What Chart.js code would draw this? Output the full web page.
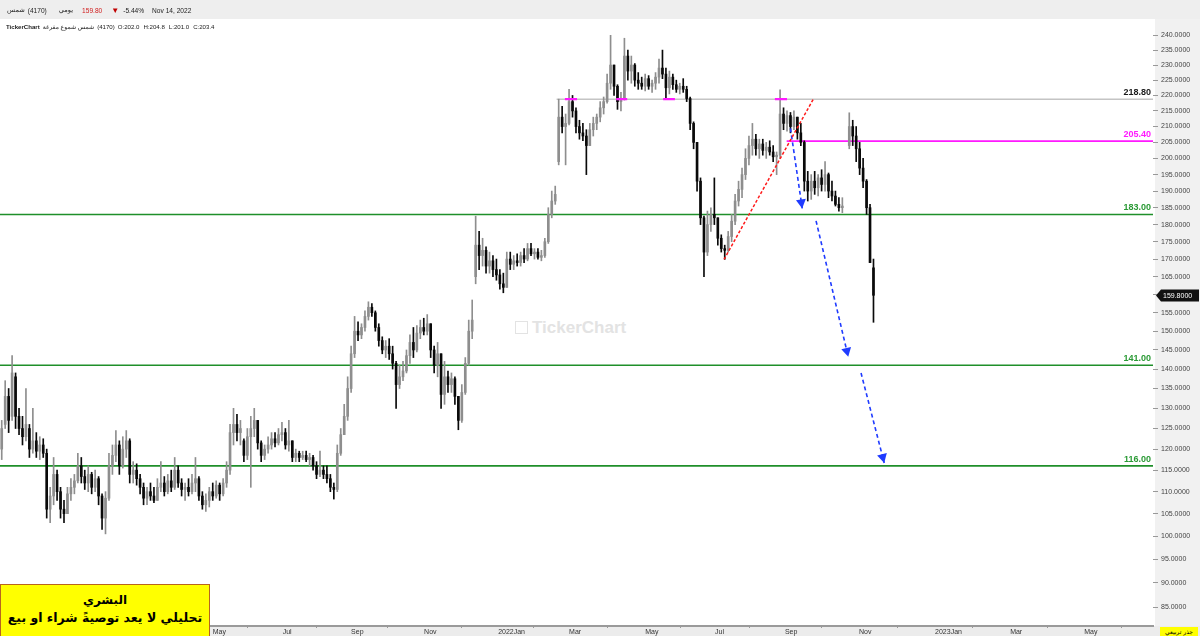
<!DOCTYPE html>
<html lang="ar">
<head>
<meta charset="utf-8">
<title>شمس (4170)</title>
<script src="https://cdn.jsdelivr.net/npm/chart.js@4.4.1/dist/chart.umd.min.js"></script>
<style>
  html, body { margin: 0; padding: 0; background: #fff; }
  #wrap { position: relative; width: 1200px; height: 636px; overflow: hidden;
          font-family: "Liberation Sans", "DejaVu Sans", Arial, sans-serif; }
  #chart { position: absolute; left: 0; top: 0; z-index: 1; }
  #hdr { position: absolute; left: 0; top: 0; width: 1200px; height: 19px; background: #eeeeee; z-index: 0; }
  .row { position: absolute; display: flex; align-items: center; white-space: nowrap; z-index: 2; color: #222; direction: ltr; }
  .row span { unicode-bidi: isolate; }
  #r1 { left: 7px; top: 5px; height: 10px; font-size: 6.6px; }
  #r2 { left: 6px; top: 22px; height: 8px; font-size: 6.1px; }
  #wm { position: absolute; left: 515px; top: 318px; z-index: 0; color: #e3e3e3; font-weight: bold; font-size: 17px; }
  #wm i { display: inline-block; width: 11px; height: 11px; border: 1.5px solid #e3e3e3; margin-right: 4px; vertical-align: -1px; }
  #note { position: absolute; left: 0; top: 584px; width: 208px; height: 52px; background: #ffff00;
          border: 1px solid #b8651e; z-index: 3; text-align: center; color: #000; font-weight: bold;
          font-family: "DejaVu Sans", sans-serif; direction: rtl; }
  #note .l1 { font-size: 12px; line-height: 16px; margin-top: 7px; }
  #note .l2 { font-size: 12.5px; line-height: 20px; white-space: nowrap; }
  #sq { position: absolute; left: 1160px; top: 627px; width: 38px; height: 9px; background: #ffff00; z-index: 3;
        font-size: 6px; line-height: 9px; text-align: center; font-family: "DejaVu Sans", sans-serif; }
</style>
</head>
<body>
<div id="wrap">
  <div id="hdr"></div>
  <div class="row" id="r1">
    <span>شمس</span>
    <span style="margin-left:3px">(4170)</span>
    <span style="margin-left:12px">يومي</span>
    <span style="margin-left:9px;color:#d01c1c">159.80</span>
    <span style="margin-left:9px;color:#c00000;font-size:8px">▼</span>
    <span style="margin-left:4px">-5.44%</span>
    <span style="margin-left:8px">Nov 14, 2022</span>
  </div>
  <div class="row" id="r2">
    <span style="font-weight:bold">TickerChart</span>
    <span style="margin-left:3px">شمس شموع مفرغة</span>
    <span style="margin-left:3px">(4170)</span>
    <span style="margin-left:3px">O:202.0</span>
    <span style="margin-left:4px">H:204.8</span>
    <span style="margin-left:4px">L:201.0</span>
    <span style="margin-left:4px">C:203.4</span>
  </div>
  <div id="wm"><i></i>TickerChart</div>
  <canvas id="chart" width="1200" height="636"></canvas>
  <div id="note"><div class="l1">البشري</div><div class="l2">تحليلي لا يعد توصيةً شراء او بيع</div></div>
  <div id="sq">جذر تربيعي</div>
</div>
<script>
// each bar = two trading sessions, index 0 is the first bar at the left edge
const opens = [
  120,126,133,128,138,128,125,123,125,120, 122,119.5,121,119,106,109,114,110,106,105,
  109.5,111,112.5,116,113.5,112,114,111,113,109, 104,108.5,116,118.5,121,116,120,122,114,115,
  113,111,108.5,110,109,108,111,112,110,112.5, 111,115,112,110.5,111,110,112,113,109,107,
  108,110,109,111.5,109.5,112,115,124,126,124, 122,118.5,123,125,127,121.5,118.5,120,121,122.5,
  121.5,123.5,124,121,122,118,119,118,118.5,117.5, 118,116,114,115,114,113,111,110.5,119,123.5,
  128,135,144,150,149,151,154,156.5,155,151, 147.5,145,146,144,141.5,136,138,139.5,143.5,147,
  145,149.5,151,150,152,145,141,144,133.5,138, 136,137.5,133,127,134,141.5,150,165,174,171,
  172.5,168,169.5,167,165.5,163,162,170,168.5,169.5, 169,171,170,173,171.5,172,170.5,171,175,183,
  187,199,213,210,211,218,215,210,208,207, 204,209,211,213,216,218,224,230,223,218,
  219,233,228,230,225,224,223,225.5,223,224, 226,229,227,222.5,226,223.5,222,223,222,219,
  211,205,193,182,172,180,183,182,176,173, 172.5,176.5,181,187,190.5,195,200,204,206,203,
  204.5,202.5,203.5,202,200.5,201,214,211,213.5,210, 213,208,205,193,190,193,191,194,192,195,
  190,188.5,186,185,null,204,210,207,203,197, 193,185,167.5
];
const highs = [
  127,137,135,143.5,139,130,128,135,126,130, 124,123,122.5,120,111,118,115,111,108,111,
  113,114,119,118,115,116,114.5,115,113.5,109.5, 110,119,121,124.5,122,123,124.5,122.5,117,116.5,
  114,112,111,112,111,113,117,113.5,114,115, 118,116,113,112,113,114,118,113.5,110,109.5,
  111,112,112.5,112,113,117,126,130,128.5,127, 122.5,125,128,130,127,122,121,123,124,124,
  125,126.5,125,127,122,120,119.5,119.5,119.5,119, 118.5,117,119.5,116,116,114,112,121,125,131,
  138,146,154,152.5,152,155.5,158,157.5,155.5,152, 148.5,147.5,148,146,142,141,142,145,149,151,
  151.5,153,153.5,154.5,152,146,147,144,142,139.5, 139,138,133,136,143,153,158.5,182.5,178,176,
  173.5,172,171,170,167,166,172,172,171,171.5, 172,173,174.5,174.5,173,173,172.5,176,185,190,
  191.5,218.8,216.5,214,222,220,216,212,211,209, 211,213,214,218,219.5,227,240,230,223.5,221,
  239,235,233,230.5,227.5,226,227,226.5,225,227.5, 232,235,229,228,227,225,224,225.5,223,219.5,
  211.5,205,194,182.5,184,185,194,182,177,174, 178,183,189,193,197,203,207,211,207.5,206,
  206,205,205.5,204,202,221.8,216,215,214.5,215, 213,211,205.5,196,195,196,195,196.5,199,195.5,
  193,190,188,188,null,214.4,212,210,205,200, 193.5,186,170
];
const lows = [
  117.5,125,124,127,125,123.5,121,122,118,119, 118,117.5,118,104,103,107,108,104,103,105,
  108,109.5,112,112,110.5,110,109.5,110,107,101.5, 100.5,108,114,117,114,115.5,118,112,112,111.5,
  109.5,107,107,108,107.5,108,110,109,109.5,110, 110.5,111,109,108,109,109.5,110,108,106,105.5,
  106.5,108,108.5,108,109,111,114,121,122,121, 117,117.5,111,123,120,117,117.5,119,120,120.5,
  121,122,120,119.5,117,117,117,117.5,117,116, 115,113,113.5,113,112,110,108.3,110,118.5,123.5,
  127,134,143,147.5,148,150,153,154,150,146, 144,143,142.5,140,130,135,137,139,141.5,143,
  144.5,148,149,149,143,139,138,130,131,134, 134,131,124.7,126.5,133.5,141,148,163,167,168,
  166,166,165,164,161.5,160.5,162,167,167,168, 168,169,169.5,171,170,170,169.5,170.5,174.5,182,
  186,198,208,198,210.5,213,208,206,205.5,195, 204,207,209,211.5,214,217.5,222,220,215.5,215,
  218.5,225,224,223,222,222,221.5,222,221,222, 224,225.5,219,220.5,222,221,220.5,221,218,209,
  203,190,180,165,171,178,180,174,172,169.9, 172,175,180,185.5,188,193.5,198,201,201,200,
  201,200,201,199,195,200,209,208.5,208,209, 206,204,190,187,187.5,189,188.5,190,190,188,
  187,185.5,184,183.5,null,203,204,199,195,191, 183,169,152.4
];
const closes = [
  125,133,127,139,128,125,123,126,120,122, 119.5,121,119,106,109,114,110,106,105,109.5,
  111,112.5,116,113.5,112,114,111,113,109,104, 108.5,116,118.5,121,116,120,122,114,115,113,
  111,108.5,110,109,108,111,112,110,112.5,111, 115,112,110.5,111,110,112,113,109,107,108,
  110,109,111.5,109.5,112,115,124,126,124,125, 118.5,123,125,127,121.5,118.5,120,121,122.5,121.5,
  123.5,124,121,122,118,119,118,118.5,117.5,118, 116,114,115,114,113,111,110.5,119,123.5,128,
  135,144,150,149,151,154,156.5,155,151,147.5, 145,146,144,141.5,136,138,139.5,143.5,147,145,
  149.5,151,150,152,145,141,144,133.5,138,136, 137.5,133,127,134,141.5,150,153,174,171,172.5,
  168,169.5,167,165.5,163,162,170,168.5,169.5,169, 171,170,173,171.5,172,170.5,171,175,183,187,
  189,213,210,211,218,215,210,208,207,204, 209,211,213,216,218,224,230,223,218,219,
  233,228,230,225,224,223,225.5,223,224,226, 229,227,222.5,226,223.5,222,223,222,219,211,
  205,193,182,172,180,183,182,176,173,172.5, 176.5,181,187,190.5,195,200,204,206,203,204.5,
  202.5,203.5,202,200.5,201,214,211,213.5,210,213, 208,205,193,190,193,191,194,192,195,190,
  188.5,186,185,185.5,null,210,207,203,197,193, 185,169,159.8
];

// x axis: month starts, in bar units
const monthLabels = ['May','Jul','Sep','Nov','2022Jan','Mar','May','Jul','Sep','Nov','2023Jan','Mar','May'];
const monthPos = [61.0, 81.2, 101.0, 122.1, 143.5, 164.0, 186.0, 206.2, 226.4, 247.8, 269.8, 291.5, 312.9];
const yTicks = [85,90,95,100,105,110,115,120,125,130,135,140,145,150,155,160,165,170,175,180,185,
  190,195,200,205,210,215,220,225,230,235,240];

// horizontal levels
const levelValues = [218.8, 205.4, 183.0, 141.0, 116.0];
const levelStart = [160.4, 226.9, -0.5, -0.5, -0.5];
const levelColors = ['#c4c4c4', '#ff19ff', '#1f8f2a', '#1f8f2a', '#1f8f2a'];
const levelTextColors = ['#1a1a1a', '#ff19ff', '#2a9a35', '#2a9a35', '#2a9a35'];

// magenta touch marks on 218.80
const touchStart = [162.8, 177.6, 191.2, 223.5];
const touchEnd = [166.3, 180.8, 194.6, 227.0];

// red rising trend line
const trendX = [208.8, 234.6];
const trendY = [169.9, 218.8];

// blue projection arrows
const arrowStartX = [228.0, 235.4, 248.4];
const arrowStartY = [209.4, 181.1, 139.0];
const arrowEndX = [231.4, 244.7, 255.1];
const arrowEndY = [184.8, 143.2, 116.7];

const lastClose = 159.8;
const X_MIN = -0.5, X_MAX = 332.8;
const FONT = '"Liberation Sans", Arial, sans-serif';
const UP = '#8e8e8e', DOWN = '#0a0a0a';

// square root price scale, like the TickerChart one
class SqrtScale extends Chart.LinearScale {
  getPixelForValue(value) {
    if (value === null || value === undefined) return NaN;
    const a = Math.sqrt(this.min), b = Math.sqrt(this.max);
    return this.getPixelForDecimal((Math.sqrt(Math.max(value, 0)) - a) / (b - a));
  }
  getValueForPixel(pixel) {
    const a = Math.sqrt(this.min), b = Math.sqrt(this.max);
    const s = a + this.getDecimalForPixel(pixel) * (b - a);
    return s * s;
  }
}
SqrtScale.id = 'sqrt';
SqrtScale.defaults = Chart.LinearScale.defaults;
Chart.register(SqrtScale);

const barIdx = closes.map((c, i) => i).filter(i => closes[i] !== null);
const candleColor = ctx => {
  const i = ctx.raw ? ctx.raw.x : 0;
  return closes[i] >= opens[i] ? UP : DOWN;
};

const datasets = [
  {
    type: 'bar', order: 0, grouped: false,
    data: barIdx.map(i => ({ x: i, y: [lows[i], highs[i]] })),
    backgroundColor: candleColor, barThickness: 1
  },
  {
    type: 'bar', order: 0, grouped: false,
    data: barIdx.map(i => ({ x: i, y: [opens[i], closes[i]] })),
    backgroundColor: candleColor, barThickness: 2, minBarLength: 1
  }
];

levelValues.forEach((v, i) => {
  datasets.push({
    type: 'line', order: 1,
    data: [{ x: levelStart[i], y: v }, { x: X_MAX, y: v }],
    borderColor: levelColors[i], borderWidth: i === 0 ? 1.5 : 1.6, pointRadius: 0
  });
});

const touchData = [];
touchStart.forEach((s, i) => {
  touchData.push({ x: s, y: levelValues[0] }, { x: touchEnd[i], y: levelValues[0] }, { x: touchEnd[i] + 0.1, y: null });
});
datasets.push({
  type: 'line', order: -1, data: touchData, spanGaps: false,
  borderColor: '#ff19ff', borderWidth: 2.2, pointRadius: 0
});

datasets.push({
  type: 'line', order: -1,
  data: trendX.map((x, i) => ({ x, y: trendY[i] })),
  borderColor: '#ff1a1a', borderWidth: 1.5, borderDash: [3, 2], pointRadius: 0
});

arrowStartX.forEach((sx, i) => {
  datasets.push({
    type: 'line', order: -1,
    data: [{ x: sx, y: arrowStartY[i] }, { x: arrowEndX[i], y: arrowEndY[i] }],
    borderColor: '#1f3bff', borderWidth: 1.6, borderDash: [4, 3], pointRadius: 0
  });
});

const tickerPlugin = {
  id: 'ticker',
  beforeDraw(chart) {
    const { ctx, chartArea: a } = chart;
    ctx.save();
    ctx.fillStyle = '#f1f1f1';
    ctx.fillRect(a.right + 2, a.top, chart.width - a.right - 2, chart.height - a.top);
    ctx.fillStyle = '#ececec';
    ctx.fillRect(0, a.bottom, chart.width, chart.height - a.bottom);
    ctx.restore();
  },
  afterDatasetsDraw(chart) {
    const { ctx, chartArea: a, scales: { x, y } } = chart;
    ctx.save();
    // arrow heads
    ctx.fillStyle = '#1f3bff';
    arrowEndX.forEach((ex, i) => {
      const tx = x.getPixelForValue(ex), ty = y.getPixelForValue(arrowEndY[i]);
      const sx = x.getPixelForValue(arrowStartX[i]), sy = y.getPixelForValue(arrowStartY[i]);
      const len = Math.hypot(tx - sx, ty - sy);
      const ux = (tx - sx) / len, uy = (ty - sy) / len;
      const bx = tx - ux * 9, by = ty - uy * 9;
      ctx.beginPath();
      ctx.moveTo(tx, ty);
      ctx.lineTo(bx - uy * 5, by + ux * 5);
      ctx.lineTo(bx + uy * 5, by - ux * 5);
      ctx.closePath();
      ctx.fill();
    });
    // level labels
    ctx.font = 'bold 9px ' + FONT;
    ctx.textAlign = 'right';
    ctx.textBaseline = 'bottom';
    levelValues.forEach((v, i) => {
      ctx.fillStyle = levelTextColors[i];
      ctx.fillText(v.toFixed(2), a.right - 2, y.getPixelForValue(v) - 2);
    });
    ctx.restore();
  },
  afterDraw(chart) {
    const { ctx, chartArea: a, scales: { y } } = chart;
    const py = Math.round(y.getPixelForValue(lastClose)) + 0.5;
    ctx.save();
    ctx.fillStyle = '#111';
    ctx.beginPath();
    ctx.moveTo(a.right + 3, py);
    ctx.lineTo(a.right + 8, py - 6);
    ctx.lineTo(1199, py - 6);
    ctx.lineTo(1199, py + 6);
    ctx.lineTo(a.right + 8, py + 6);
    ctx.closePath();
    ctx.fill();
    ctx.fillStyle = '#fff';
    ctx.font = '7px ' + FONT;
    ctx.textBaseline = 'middle';
    ctx.fillText(lastClose.toFixed(4), a.right + 10, py + 0.5);
    ctx.restore();
  }
};

new Chart(document.getElementById('chart'), {
  type: 'bar',
  data: { datasets },
  options: {
    responsive: false,
    animation: false,
    events: [],
    layout: { padding: { top: 19, left: 0, right: 0, bottom: 0 } },
    plugins: { legend: { display: false }, tooltip: { enabled: false } },
    scales: {
      x: {
        type: 'linear', min: X_MIN, max: X_MAX, offset: false,
        afterBuildTicks: s => { s.ticks = monthPos.map(v => ({ value: v })); },
        afterFit: s => { s.height = 10; },
        ticks: {
          autoSkip: false, maxRotation: 0, align: 'start', padding: 0,
          font: { size: 7, family: FONT }, color: '#333',
          callback: (v, i) => monthLabels[i]
        },
        grid: { drawOnChartArea: false, tickLength: 2, color: '#9a9a9a' },
        border: { display: true, color: '#9a9a9a', width: 2 }
      },
      y: {
        type: 'sqrt', position: 'right', min: 81.27, max: 245.57,
        afterBuildTicks: s => { s.ticks = yTicks.map(v => ({ value: v })); },
        afterFit: s => { s.width = 47; },
        ticks: {
          padding: 3, font: { size: 7, family: FONT }, color: '#444',
          callback: v => Number(v).toFixed(4)
        },
        grid: { drawOnChartArea: false, tickLength: 5, color: '#999' },
        border: { display: false }
      }
    }
  },
  plugins: [tickerPlugin]
});
</script>
</body>
</html>
